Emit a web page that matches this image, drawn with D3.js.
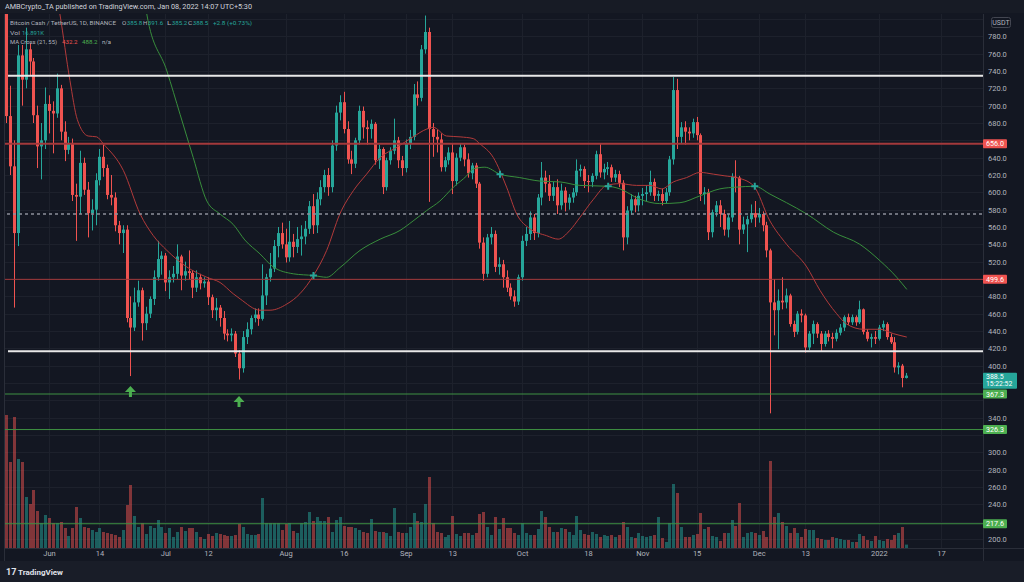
<!DOCTYPE html>
<html><head><meta charset="utf-8">
<script src="https://cdn.jsdelivr.net/npm/d3@7"></script>
<style>
html,body{margin:0;padding:0;background:#131722;overflow:hidden;}
svg{display:block;font-family:Roboto,"Liberation Sans",sans-serif;}
</style></head><body>
<svg id="c" width="1024" height="582"></svg>
<script>
// ---------------- DATA ----------------
const startDate = "2021-05-21"; // first visible daily candle
// [open, high, low, close] per day
const candles = [
[845,870,680,688],[688,723,620,630],[630,660,467,553],[553,770,538,758],[758,770,700,730],
[730,790,720,765],[765,772,735,751],[751,755,680,689],[689,700,628,653],[653,680,615,660],
[660,721,650,702],[702,712,668,694],[694,705,645,691],[691,737,686,720],[720,724,660,670],
[670,682,636,649],[649,664,644,657],[657,662,590,597],[597,610,544,595],[595,648,575,634],
[634,640,597,603],[603,612,548,576],[576,592,556,580],[580,622,562,614],[614,650,608,641],
[641,655,618,628],[628,632,592,597],[597,620,585,594],[594,600,555,562],[562,567,540,553],
[553,562,530,557],[557,562,450,455],[455,480,388,444],[444,490,440,473],[473,498,468,487],
[487,490,429,449],[449,468,441,460],[460,480,455,477],[477,510,470,502],[502,544,498,523],
[523,532,505,527],[527,530,486,496],[496,510,477,502],[502,515,496,506],[506,540,500,526],
[526,528,487,504],[504,520,498,509],[509,533,500,507],[507,510,478,490],[490,510,485,502],
[502,506,488,495],[495,502,490,497],[497,502,470,479],[479,482,455,464],[464,478,452,467],
[467,470,445,455],[455,463,430,437],[437,442,428,435],[435,443,428,437],[437,440,410,414],
[414,418,384,397],[397,440,392,433],[433,450,425,442],[442,458,436,455],[455,466,450,459],
[459,466,446,454],[454,517,452,481],[481,506,470,502],[502,530,497,512],[512,545,508,538],
[538,560,525,553],[553,565,535,540],[540,558,519,525],[525,567,520,543],[543,552,525,537],
[537,560,530,546],[546,562,527,549],[549,567,540,558],[558,590,552,584],[584,598,552,562],
[562,600,553,592],[592,614,585,606],[606,626,600,620],[620,628,596,606],[606,660,600,654],
[654,700,648,692],[692,712,683,704],[704,716,668,673],[673,682,633,638],[638,648,621,633],
[633,663,628,660],[660,700,655,694],[694,699,662,675],[675,683,655,673],[673,684,662,679],
[679,681,632,637],[637,655,627,650],[650,652,598,606],[606,640,602,637],[637,652,632,648],
[648,685,644,660],[660,664,628,637],[637,642,619,628],[628,661,623,656],[656,672,650,664],
[664,725,660,713],[713,728,700,709],[709,770,705,765],[765,804,760,785],[785,790,589,673],
[673,680,641,664],[664,672,646,661],[661,668,624,629],[629,641,624,637],[637,652,632,646],
[646,656,598,613],[613,645,608,640],[640,656,636,652],[652,655,630,638],[638,645,617,622],
[622,634,615,631],[631,634,605,610],[610,612,535,542],[542,548,498,506],[506,552,502,548],
[548,560,540,552],[552,556,508,514],[514,525,505,517],[517,522,490,502],[502,510,485,490],
[490,495,476,480],[480,487,468,474],[474,505,470,502],[502,550,498,544],[544,560,538,552],
[552,578,545,571],[571,575,545,553],[553,598,548,594],[594,635,585,617],[617,625,600,610],
[610,620,590,596],[596,612,590,606],[606,615,575,585],[585,610,580,602],[602,606,578,588],
[588,598,580,594],[594,605,588,600],[600,638,596,625],[625,632,618,627],[627,630,605,613],
[613,620,600,612],[612,622,606,619],[619,648,615,644],[644,656,617,623],[623,633,615,627],
[627,635,620,629],[629,632,612,617],[617,626,612,621],[621,625,606,611],[611,614,533,548],
[548,584,540,579],[579,598,574,592],[592,596,577,585],[585,600,578,596],[596,605,585,598],
[598,608,590,600],[600,625,596,612],[612,616,590,596],[596,602,590,598],[598,604,585,590],
[590,605,587,600],[600,642,596,638],[638,733,632,718],[718,731,650,664],[664,681,656,675],
[675,682,655,670],[670,675,660,668],[668,685,663,681],[681,687,660,666],[666,668,590,598],
[598,606,586,600],[600,604,545,554],[554,580,548,577],[577,590,572,585],[585,591,560,575],
[575,580,550,557],[557,575,548,571],[571,622,566,618],[618,637,600,617],[617,619,540,557],
[557,572,552,563],[563,573,531,569],[569,586,565,576],[576,590,560,571],[571,582,565,575],
[575,578,555,562],[562,566,525,533],[533,535,345,473],[473,500,435,464],[464,488,419,475],
[475,502,465,473],[473,489,466,481],[481,483,445,448],[448,452,433,439],[439,463,436,460],
[460,465,450,458],[458,460,415,421],[421,440,418,437],[437,452,425,448],[448,450,432,437],
[437,440,417,425],[425,440,422,437],[437,441,428,433],[433,438,420,431],[431,442,428,438],
[438,448,435,444],[444,458,440,456],[456,460,447,450],[450,459,447,456],[456,458,446,450],
[450,475,448,465],[465,466,436,439],[439,442,428,431],[431,437,421,433],[433,440,425,431],
[431,447,429,444],[444,452,440,448],[448,450,430,433],[433,437,425,427],[427,433,392,398],
[398,404,390,400],[400,402,375,385.8],[385.8,391.6,385.2,388.5]
];
// daily volume, thousands
const volumes = [
665,430,655,445,430,255,220,290,185,125,165,150,125,125,130,100,60,100,205,150,
105,100,90,80,100,80,75,70,65,55,90,215,315,160,105,125,70,110,100,140,
105,75,100,55,80,105,85,100,100,80,55,45,70,60,75,70,65,60,60,65,
120,105,70,65,65,70,250,125,125,125,125,90,120,125,85,75,125,130,180,135,
155,135,135,155,80,140,155,110,105,105,100,90,80,75,145,85,80,80,75,60,
200,80,75,75,105,175,135,130,220,355,125,80,75,55,65,160,70,60,75,75,
65,75,170,180,105,65,155,95,150,100,100,75,65,125,75,65,65,95,185,155,
105,80,80,100,95,80,65,160,90,70,65,80,70,55,65,60,65,55,65,130,
105,55,50,75,60,55,60,65,155,50,30,125,320,275,105,55,55,65,70,175,
95,105,60,55,35,75,75,140,110,225,55,75,80,75,65,85,55,435,155,175,
130,110,75,100,75,55,95,90,90,50,45,40,40,55,50,45,40,40,30,30,
70,60,40,35,60,40,35,45,40,65,75,105,17
];
// moving averages: [day index from start, value]
const ma21 = [[12.5,840],[13.8,806],[16.4,729],[18.3,684],[21.1,665],[23.3,664],[25,656],[30.2,625],[34.5,575],[37.9,550],[41.4,533],[46.5,514],[51.7,502],[55.1,496],[58.5,483],[60.3,477],[65.4,464],[68,464],[72.3,471],[75.7,483],[79.2,504],[82.6,533],[86,575],[89.5,602],[92.9,621],[96.4,640],[100.7,652],[104.9,664],[108.4,673],[110.1,675],[113.5,665],[117,664],[120.4,662],[122.1,656],[125.6,640],[129,606],[131.6,575],[135,558],[139.3,550],[142.3,546],[145.3,556],[147.9,571],[151.4,592],[154.8,608],[158.2,610],[162.5,608],[166,608],[169,604],[172,612],[175.4,617],[178.9,623],[182.3,621],[185.3,619],[188.3,617],[192.6,608],[196.9,567],[201.2,540],[206.4,514],[209.8,487],[214.1,460],[216.7,448],[221,442],[225.3,442],[228.7,437],[232.2,433]];
const ma55 = [[35,850],[36.2,806],[41.4,740],[44.8,690],[48.2,640],[51.7,590],[55.1,575],[58.5,563],[61.5,545],[65.4,529],[68.8,514],[74,506],[79.2,504],[82.6,502],[86,513],[91.2,533],[96.4,546],[101.5,556],[104.9,567],[108.4,579],[111.8,590],[115.3,606],[118.7,619],[120.4,627],[123.4,629],[127.3,621],[132.4,617],[137.6,613],[142.8,612],[147.9,608],[155.2,607],[158.2,604],[163.4,592],[168.5,587],[173.7,588],[178.9,596],[184,604],[188.3,606],[193,607],[196.9,598],[201.2,588],[206.4,575],[213.3,554],[220.1,540],[225.3,521],[229.6,502],[232.2,488]];
const crossPoints = [[79.2,504],[127.3,621],[155.2,607],[193,607]];
const arrowPoints = [[32,376.5],[60,365]];
const priceTicks = [200,220,240,260,280,300,320,340,360,380,400,420,440,460,480,500,520,540,560,580,600,620,640,660,680,700,720,740,760,780,800];
const timeTickDates = ["2021-06-01","2021-06-14","2021-07-01","2021-07-12","2021-08-01","2021-08-16","2021-09-01","2021-09-13","2021-10-01","2021-10-18","2021-11-01","2021-11-15","2021-12-01","2021-12-13","2022-01-01","2022-01-17"];
const timeTickLabels = ["Jun","14","Jul","12","Aug","16","Sep","13","Oct","18","Nov","15","Dec","13","2022","17"];
const whiteLevels = [734.5, 416.5];
const redLevels = [656.0, 499.6];
const greenLevels = [367.3, 326.3, 217.6];
const dashedLevels = [575];
const lastPrice = 388.5, countdown = "15:22:52";
const legendOHLC = {O:"385.8",H:"391.6",L:"385.2",C:"388.5",chg:"+2.8 (+0.73%)"};
const legendVol = "16.891K", legendMA = ["432.2","488.2","n/a"];

// ---------------- DRAW ----------------
const W=1024,H=582, L=5, R=983, T=14, B=548;
const UP="#26a69a", DN="#ef5350", TXT="#b2b5be", GRID="#1d212c";
const svg=d3.select("#c");
svg.append("rect").attr("width",W).attr("height",H).attr("fill","#131722");
svg.append("rect").attr("x",0).attr("y",0).attr("width",W).attr("height",T-1).attr("fill","#171b25");
svg.append("rect").attr("x",0).attr("y",561).attr("width",W).attr("height",21).attr("fill","#191d28");

const dayIdx = s => Math.round((Date.parse(s)-Date.parse(startDate))/864e5);
const x=d3.scaleLinear().domain([-0.346,251.85]).range([L,R]);
const y=d3.scaleLinear().domain([200,800]).range([539,19]);
const yv=d3.scaleLinear().domain([0,670]).range([B,414]);

svg.append("defs").append("clipPath").attr("id","clip").append("rect")
  .attr("x",L).attr("y",T).attr("width",R-L).attr("height",B-T);

// grid
const g=svg.append("g").attr("clip-path","url(#clip)");
g.selectAll(".hg").data(priceTicks).join("line")
  .attr("x1",L).attr("x2",R).attr("y1",d=>Math.round(y(d))+0.5).attr("y2",d=>Math.round(y(d))+0.5)
  .attr("stroke",GRID).attr("stroke-width",1);
g.selectAll(".vg").data(timeTickDates).join("line")
  .attr("x1",d=>Math.round(x(dayIdx(d)))+0.5).attr("x2",d=>Math.round(x(dayIdx(d)))+0.5)
  .attr("y1",T).attr("y2",B).attr("stroke",GRID).attr("stroke-width",1);

// volume
g.selectAll(".vol").data(volumes).join("rect")
  .attr("x",(d,i)=>Math.round(x(i))-1).attr("width",3)
  .attr("y",d=>yv(d)).attr("height",d=>B-yv(d))
  .attr("fill",(d,i)=>candles[i][3]>=candles[i][0]?UP:DN).attr("fill-opacity",0.5);

// candles
const cg=g.append("g");
candles.forEach((c,i)=>{
  const [o,h,l,cl]=c, col=cl>=o?UP:DN, cx=Math.round(x(i));
  cg.append("line").attr("x1",cx+0.5).attr("x2",cx+0.5).attr("y1",y(h)).attr("y2",y(l))
    .attr("stroke",col).attr("stroke-width",1);
  const top=y(Math.max(o,cl)), bot=y(Math.min(o,cl));
  cg.append("rect").attr("x",cx-1).attr("width",3).attr("y",top).attr("height",Math.max(1,bot-top)).attr("fill",col);
});

// MAs
const line=d3.line().x(d=>x(d[0])).y(d=>y(d[1])).curve(d3.curveMonotoneX);
g.append("path").attr("d",line(ma21)).attr("fill","none").attr("stroke","#b23a3a").attr("stroke-width",1);
g.append("path").attr("d",line(ma55)).attr("fill","none").attr("stroke","#388e3c").attr("stroke-width",1);
crossPoints.forEach(p=>{
  const cx=x(p[0]), cy=y(p[1]);
  g.append("path").attr("d",`M${cx-3.5},${cy}H${cx+3.5}M${cx},${cy-3.5}V${cy+3.5}`)
    .attr("stroke",UP).attr("stroke-width",2);
});

// levels
whiteLevels.forEach(v=>g.append("line").attr("x1",L+3).attr("x2",R).attr("y1",y(v)).attr("y2",y(v)).attr("stroke","#e8e8e8").attr("stroke-width",2));
redLevels.forEach((v,k)=>g.append("line").attr("x1",L).attr("x2",R).attr("y1",y(v)).attr("y2",y(v)).attr("stroke","#a3393b").attr("stroke-width",k===0?2:1));
greenLevels.forEach(v=>g.append("line").attr("x1",L).attr("x2",R).attr("y1",y(v)).attr("y2",y(v)).attr("stroke","#3e9142").attr("stroke-width",1));
dashedLevels.forEach(v=>g.append("line").attr("x1",L+2).attr("x2",R).attr("y1",y(v)).attr("y2",y(v)).attr("stroke","#8d909a").attr("stroke-width",1.5).attr("stroke-dasharray","3,3"));

// arrows
arrowPoints.forEach(p=>{
  const cx=x(p[0]), t=y(p[1]);
  g.append("path").attr("d",`M${cx},${t}L${cx+5.5},${t+6}L${cx+1.5},${t+6}L${cx+1.5},${t+11}L${cx-1.5},${t+11}L${cx-1.5},${t+6}L${cx-5.5},${t+6}Z`)
    .attr("fill","#4caf50");
});

// axes separators
svg.append("line").attr("x1",R+0.5).attr("x2",R+0.5).attr("y1",T).attr("y2",561).attr("stroke","#2a2e39");
svg.append("line").attr("x1",L).attr("x2",W).attr("y1",B+0.5).attr("y2",B+0.5).attr("stroke","#2a2e39");
svg.append("line").attr("x1",L-0.5).attr("x2",L-0.5).attr("y1",T).attr("y2",561).attr("stroke","#2a2e39");

// badge geometry (axis labels that sit under a badge are hidden, as in the reference)
const lpY=y(lastPrice);
const covered=[...redLevels,...greenLevels].map(v=>[y(v)-4.5,y(v)+4.5]);
covered.push([lpY-2.8,lpY+13]);
covered.push([17.5,27.5]); // USDT tag
const visibleTicks=priceTicks.filter(t=>{const ty=y(t);return !covered.some(([a,b])=>ty+3.2>a&&ty-3.2<b);});

// price axis
const pa=svg.append("g").attr("transform",`translate(${R+3},0)`)
  .call(d3.axisRight(y).tickValues(visibleTicks).tickFormat(d3.format(".1f")).tickSize(0).tickPadding(2));
pa.select(".domain").remove();
pa.selectAll("text").attr("fill",TXT).attr("font-size",7.5).attr("font-family","Roboto,sans-serif");

// time axis
const ta=svg.append("g").attr("transform",`translate(0,${B})`)
  .call(d3.axisBottom(x).tickValues(timeTickDates.map(dayIdx)).tickFormat((d,i)=>timeTickLabels[i]).tickSize(0).tickPadding(3));
ta.select(".domain").remove();
ta.selectAll("text").attr("fill",TXT).attr("font-size",7.5).attr("font-family","Roboto,sans-serif");

// badges
function badge(v,txt,col){
  const cy=y(v);
  svg.append("rect").attr("x",R).attr("y",cy-4.5).attr("width",24).attr("height",9).attr("rx",1).attr("fill",col);
  svg.append("text").attr("x",R+3).attr("y",cy+2.5).attr("fill","#fff").attr("font-size",7.2).text(txt);
}
redLevels.forEach(v=>badge(v,v.toFixed(1),"#ef5350"));
greenLevels.forEach(v=>badge(v,v.toFixed(1),"#4caf50"));
svg.append("rect").attr("x",R).attr("y",lpY-2.8).attr("width",34).attr("height",15.8).attr("rx",1).attr("fill",UP);
svg.append("text").attr("x",R+3).attr("y",lpY+3.4).attr("fill","#fff").attr("font-size",7).text(lastPrice.toFixed(1));
svg.append("text").attr("x",R+3).attr("y",lpY+10.8).attr("fill","#fff").attr("font-size",6.8).text(countdown);
svg.append("rect").attr("x",991.5).attr("y",17.5).attr("width",19).attr("height",10).attr("rx",2)
  .attr("fill","#131722").attr("stroke","#434651");
svg.append("text").attr("x",1001).attr("y",25).attr("text-anchor","middle").attr("fill",TXT).attr("font-size",7).text("USDT");

// header + legend (textLength keeps each piece at its reference width)
function txt(xp,yp,s,col,len,fs){
  svg.append("text").attr("x",xp).attr("y",yp).attr("fill",col).attr("font-size",fs||6.2)
    .attr("textLength",len).attr("lengthAdjust","spacingAndGlyphs").text(s);
}
txt(5,9,"AMBCrypto_TA published on TradingView.com, Jan 08, 2022 14:07 UTC+5:30","#d1d4dc",247,7.5);
txt(10,25,"Bitcoin Cash / TetherUS, 1D, BINANCE",TXT,106);
[["O",122],["H",143],["L",167],["C",188]].forEach(([k,px])=>{
  txt(px,25,k,TXT,4.3);
  txt(px+4.8,25,legendOHLC[k],UP,15.5);
});
txt(213,25,legendOHLC.chg,UP,39);
txt(10,35,"Vol",TXT,10);
txt(22,35,legendVol,UP,22);
txt(10,44,"MA Cross (21, 55)",TXT,47);
txt(62,44,legendMA[0],"#ef5350",15.5);
txt(82,44,legendMA[1],"#4caf50",15.5);
txt(102,44,legendMA[2],TXT,9);

// footer logo
svg.append("text").attr("x",6).attr("y",575).attr("fill","#e0e3eb").attr("font-size",9).attr("font-weight","bold").text("17");
svg.append("text").attr("x",18).attr("y",575).attr("fill","#e0e3eb").attr("font-size",8).attr("font-weight","bold").text("TradingView");
</script>
</body></html>
